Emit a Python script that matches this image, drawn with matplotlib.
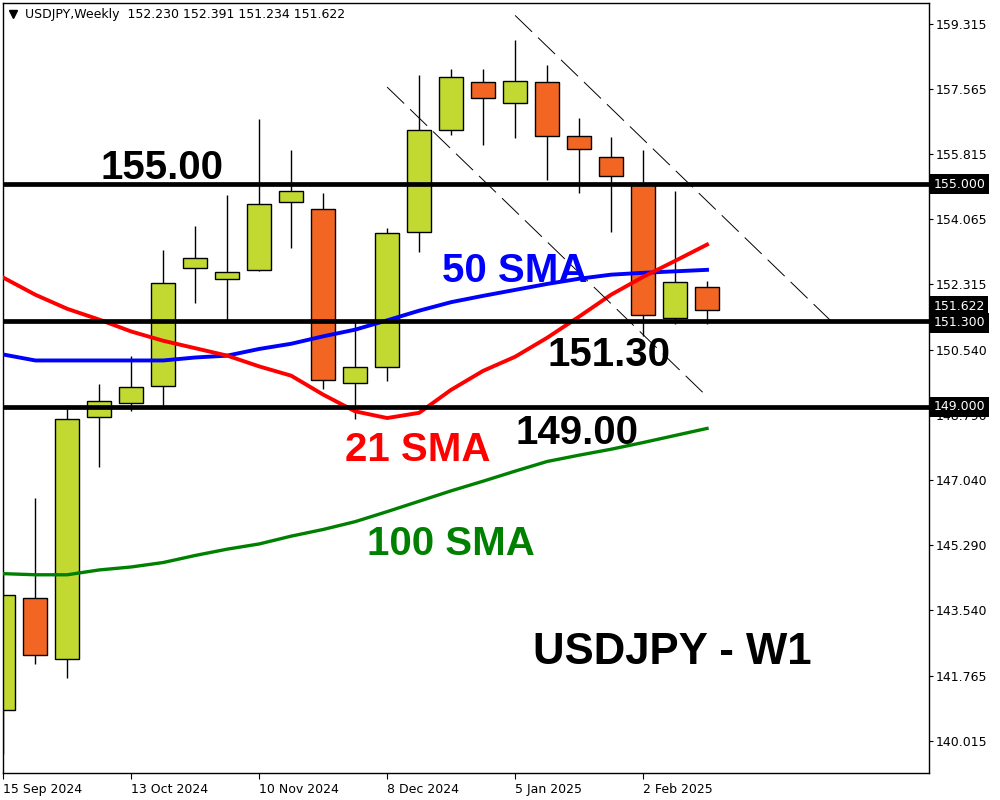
import matplotlib
matplotlib.use('Agg')
import matplotlib.pyplot as plt
import matplotlib.transforms as mtransforms

# weekly candles, index 0 = week of 15 Sep 2024
opens = [140.85, 143.85, 142.21, 148.73, 149.10, 149.57, 152.74, 152.44, 152.68, 154.51,
         154.33, 149.64, 150.07, 153.71, 156.45, 157.745, 157.18, 157.745, 156.29, 155.73,
         155.00, 151.40, 152.230]
highs = [144.49, 146.55, 149.05, 149.62, 150.38, 153.23, 153.88, 154.71, 156.76, 155.92,
         154.76, 151.30, 153.82, 157.94, 158.10, 158.10, 158.88, 158.21, 156.78, 156.27,
         155.92, 154.82, 152.391]
lows = [139.66, 142.09, 141.69, 147.37, 148.88, 149.05, 151.81, 151.32, 152.66, 153.29,
        149.49, 148.67, 149.71, 153.18, 156.33, 156.04, 156.25, 155.10, 154.77, 153.72,
        150.92, 151.23, 151.234]
closes = [143.94, 142.32, 148.67, 149.16, 149.53, 152.33, 153.01, 152.63, 154.46, 154.81,
          149.72, 150.07, 153.68, 156.45, 157.88, 157.315, 157.77, 156.29, 155.94, 155.21,
          151.48, 152.36, 151.622]

sma21 = [152.48, 152.02, 151.64, 151.35, 151.03, 150.78, 150.58, 150.38, 150.09, 149.84,
         149.33, 148.88, 148.70, 148.84, 149.46, 149.97, 150.35, 150.86, 151.43, 152.02,
         152.50, 152.93, 153.37]
sma50 = [150.41, 150.25, 150.25, 150.25, 150.25, 150.25, 150.33, 150.38, 150.56, 150.70,
         150.90, 151.08, 151.33, 151.59, 151.82, 151.99, 152.15, 152.31, 152.45, 152.56,
         152.61, 152.65, 152.69]
sma100 = [144.51, 144.48, 144.48, 144.61, 144.69, 144.81, 145.00, 145.17, 145.31, 145.52,
          145.70, 145.91, 146.18, 146.46, 146.74, 147.00, 147.27, 147.53, 147.70, 147.86,
          148.04, 148.23, 148.42]

levels = [155.0, 151.3, 149.0]
channel_upper = ([16, 26], [159.54, 151.21])
channel_lower = ([12, 22], [157.61, 149.28])

yticks = [159.315, 157.565, 155.815, 154.065, 152.315, 150.540, 148.790, 147.040,
          145.290, 143.540, 141.765, 140.015]
xtick_pos = [0, 4, 8, 12, 16, 20]
xtick_labels = ['15 Sep 2024', '13 Oct 2024', '10 Nov 2024', '8 Dec 2024', '5 Jan 2025', '2 Feb 2025']

up_col = '#C2D932'
dn_col = '#F26522'

fig = plt.figure(figsize=(10, 8), dpi=100)
ax = fig.add_axes([0.003, 0.034, 0.926, 0.9625])
ax.set_xlim(-0.01, 28.94)
ax.set_ylim(139.148, 159.88)

idx = list(range(len(opens)))
# wicks
ax.vlines(idx, lows, highs, color='black', linewidth=1, zorder=1)
# bodies
bottoms = [min(o, c) for o, c in zip(opens, closes)]
heights = [abs(c - o) for o, c in zip(opens, closes)]
cols = [up_col if c >= o else dn_col for o, c in zip(opens, closes)]
ax.bar(idx, heights, bottom=bottoms, width=0.75, color=cols, edgecolor='black',
       linewidth=1, zorder=2)

# moving averages
ax.plot(idx, sma100, color='#008000', linewidth=2.4, zorder=3)
ax.plot(idx, sma50, color='#0000FF', linewidth=2.8, zorder=3)
ax.plot(idx, sma21, color='#FF0000', linewidth=2.8, zorder=3)

# support / resistance
for lv in levels:
    ax.axhline(lv, color='black', linewidth=3.4, zorder=4)

# channel
plt.rcParams['lines.scale_dashes'] = False
for xs, ys in (channel_upper, channel_lower):
    ax.plot(xs, ys, color='black', linewidth=0.7, dashes=(17, 6), zorder=5)

# annotations
bold = dict(family='Liberation Sans', weight='bold', fontsize=29, va='baseline', zorder=6)
ax.text(3.03, 155.14, '155.00', color='black', **bold)
ax.text(13.72, 152.35, '50 SMA', color='#0000FF', **bold)
ax.text(17.0, 150.09, '151.30', color='black', **bold)
ax.text(10.69, 147.53, '21 SMA', color='#FF0000', **bold)
ax.text(16.0, 148.01, '149.00', color='black', **bold)
ax.text(11.375, 145.02, '100 SMA', color='#008000', **bold)
ax.text(16.56, 142.08, 'USDJPY - W1', color='black', family='Liberation Sans',
        weight='bold', fontsize=31.5, va='baseline', zorder=6)

# header
ax.plot([0.0106], [0.9855], marker='v', markersize=6, color='black',
        transform=ax.transAxes, clip_on=False)
ax.text(0.024, 0.9844, 'USDJPY,Weekly  %.3f %.3f %.3f %.3f' % (opens[-1], highs[-1], lows[-1], closes[-1]),
        transform=ax.transAxes, fontsize=9, family='DejaVu Sans', va='center', ha='left')

# axes
ax.yaxis.tick_right()
ax.set_yticks(yticks)
ax.set_yticklabels(['%.3f' % v for v in yticks])
ax.set_xticks(xtick_pos)
ax.set_xticklabels(xtick_labels, ha='left')
ax.tick_params(axis='y', direction='out', length=3, width=0.8, pad=2, labelsize=9)
ax.tick_params(axis='x', direction='out', length=4, width=0.8, pad=3, labelsize=9)
for s in ax.spines.values():
    s.set_linewidth(1)

# price boxes on the right
trans = mtransforms.blended_transform_factory(ax.transAxes, ax.transData)
box = dict(facecolor='black', edgecolor='none', boxstyle='square,pad=0.3')
for lv, off in ((155.0, 0), (149.0, 0), (closes[-1], 2), (151.3, -1)):
    ax.annotate('%.3f' % lv, xy=(1.0046, lv), xycoords=trans, xytext=(0, off),
                textcoords='offset points', color='white', fontsize=9, va='center',
                ha='left', bbox=box, zorder=7, annotation_clip=False)

fig.savefig('out.png', dpi=100)
